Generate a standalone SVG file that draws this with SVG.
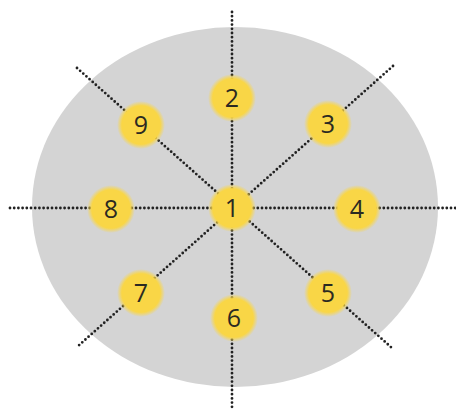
<svg xmlns="http://www.w3.org/2000/svg" width="456" height="410" viewBox="0 0 456 410">
<defs>
<radialGradient id="yg">
<stop offset="0" stop-color="#f9d646"/>
<stop offset="0.8" stop-color="#f9d646"/>
<stop offset="1" stop-color="#f9d646" stop-opacity="0"/>
</radialGradient>
<style>
.dot{stroke:#222;stroke-width:2.8;stroke-linecap:round;stroke-dasharray:0 4.2;fill:none}
.n circle{fill:url(#yg)}
.n text{font-family:"Open Sans","Noto Sans",sans-serif;font-size:25px;fill:#2b2a22;text-anchor:middle}
</style>
</defs>
<rect width="456" height="410" fill="#ffffff"/>
<ellipse cx="235" cy="207" rx="203" ry="180" fill="#d4d4d4"/>
<g id="connectors">
<line class="dot" x1="232" y1="12" x2="232" y2="408"/>
<line class="dot" x1="10" y1="208" x2="456" y2="208"/>
<line class="dot" x1="77" y1="68" x2="392" y2="348"/>
<line class="dot" x1="393" y1="66" x2="77" y2="347"/>
</g>
<g id="node1" class="n"><circle cx="232" cy="208" r="24"/><text x="232" y="217">1</text></g>
<g id="node2" class="n"><circle cx="232" cy="98" r="24"/><text x="232" y="107">2</text></g>
<g id="node3" class="n"><circle cx="328" cy="124" r="24"/><text x="328" y="133">3</text></g>
<g id="node4" class="n"><circle cx="357" cy="209" r="24"/><text x="357" y="218">4</text></g>
<g id="node5" class="n"><circle cx="328" cy="293" r="24"/><text x="328" y="302">5</text></g>
<g id="node6" class="n"><circle cx="234" cy="318" r="24"/><text x="234" y="327">6</text></g>
<g id="node7" class="n"><circle cx="141" cy="293" r="24"/><text x="141" y="302">7</text></g>
<g id="node8" class="n"><circle cx="111" cy="209" r="24"/><text x="111" y="218">8</text></g>
<g id="node9" class="n"><circle cx="141" cy="125" r="24"/><text x="141" y="134">9</text></g>
</svg>
